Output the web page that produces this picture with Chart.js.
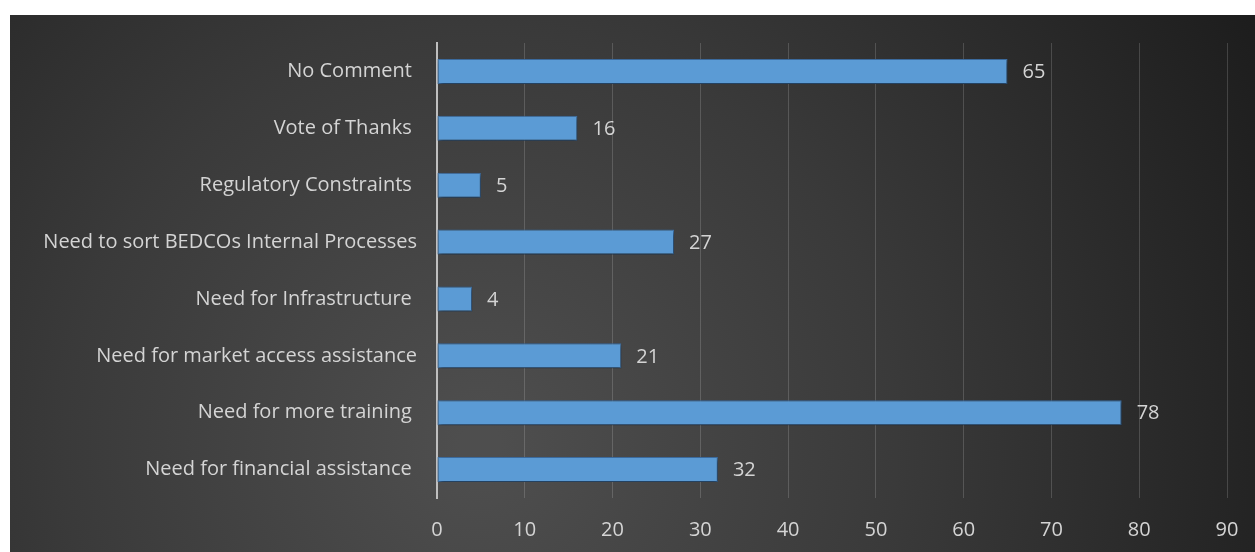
<!DOCTYPE html>
<html>
<head>
<meta charset="utf-8">
<script src="https://cdn.jsdelivr.net/npm/chart.js@4/dist/chart.umd.min.js"></script>
<style>
  html, body { margin: 0; padding: 0; background: #ffffff; }
  #wrap { position: absolute; left: 10px; top: 15px; width: 1245px; height: 537px; }
</style>
</head>
<body>
<div id="wrap"><canvas id="c" width="1245" height="537"></canvas></div>
<script>
// Responses, listed top to bottom
const categories = [
  "No Comment ",
  "Vote of Thanks ",
  "Regulatory Constraints ",
  "Need to sort BEDCOs Internal Processes",
  "Need for Infrastructure ",
  "Need for market access assistance",
  "Need for more training ",
  "Need for financial assistance "
];
const counts = [65, 16, 5, 27, 4, 21, 78, 32];
const axisTicks = [0, 10, 20, 30, 40, 50, 60, 70, 80, 90];

const FONT = "'Open Sans', Lato, sans-serif";
const TEXT = "#d4d4d4";

// dark radial backdrop behind the whole chart
const backdrop = {
  id: "backdrop",
  beforeDraw(chart) {
    const { ctx, width, height } = chart;
    const g = ctx.createRadialGradient(470, 430, 20, 470, 430, 900);
    g.addColorStop(0, "#4e4e4e");
    g.addColorStop(0.45, "#3a3a3a");
    g.addColorStop(1, "#1c1c1c");
    ctx.save();
    ctx.fillStyle = g;
    ctx.fillRect(0, 0, width, height);
    ctx.restore();
  }
};

// soft drop shadow under the bars
const barShadow = {
  id: "barShadow",
  beforeDatasetDraw(chart) {
    const ctx = chart.ctx;
    ctx.save();
    ctx.shadowColor = "rgba(0,0,0,0.55)";
    ctx.shadowBlur = 4;
    ctx.shadowOffsetX = 1;
    ctx.shadowOffsetY = 2;
  },
  afterDatasetDraw(chart) {
    chart.ctx.restore();
  }
};

// value written just past each bar's end
const valueLabels = {
  id: "valueLabels",
  afterDatasetsDraw(chart) {
    const { ctx } = chart;
    const meta = chart.getDatasetMeta(0);
    ctx.save();
    ctx.font = "20px " + FONT;
    ctx.fillStyle = TEXT;
    ctx.textAlign = "left";
    ctx.textBaseline = "middle";
    meta.data.forEach((bar, i) => {
      ctx.fillText(String(counts[i]), bar.x + 15, bar.y + 1);
    });
    ctx.restore();
  }
};

const ctx = document.getElementById("c").getContext("2d");

new Chart(ctx, {
  type: "bar",
  data: {
    labels: categories,
    datasets: [{
      data: counts,
      backgroundColor(context) {
        const el = context.element;
        if (!el || el.y === undefined) return "#5b9bd5";
        const top = el.y - el.height / 2, bot = el.y + el.height / 2;
        const g = context.chart.ctx.createLinearGradient(0, top, 0, bot);
        g.addColorStop(0, "#62a4e6");
        g.addColorStop(0.5, "#5a9bdc");
        g.addColorStop(1, "#4686cb");
        return g;
      },
      borderColor: "#3f72a8",
      borderWidth: 1,
      borderSkipped: false,
      barPercentage: 0.88,
      categoryPercentage: 0.5
    }]
  },
  options: {
    indexAxis: "y",
    responsive: false,
    animation: false,
    events: [],
    layout: { padding: { top: 28, right: 28, left: 0, bottom: 0 } },
    plugins: { legend: { display: false }, tooltip: { enabled: false } },
    scales: {
      x: {
        min: 0,
        max: 90,
        afterBuildTicks(scale) { scale.ticks = axisTicks.map(v => ({ value: v })); },
        grid: { color: "rgba(255,255,255,0.16)", lineWidth: 1, drawTicks: false },
        border: { display: false },
        ticks: { color: TEXT, font: { family: FONT, size: 20 }, padding: 20 },
        afterFit(scale) {
          scale.height = 54;
          scale.paddingLeft = 0;
          scale.paddingRight = 0;
        }
      },
      y: {
        grid: { display: false, drawTicks: false },
        border: { display: true, color: "#bfbfbf", width: 2 },
        ticks: { color: TEXT, font: { family: FONT, size: 20 }, padding: 20 },
        afterFit(scale) {
          scale.width = 427;
          scale.paddingTop = 0;
          scale.paddingBottom = 0;
        }
      }
    }
  },
  plugins: [backdrop, barShadow, valueLabels]
});
</script>
</body>
</html>
